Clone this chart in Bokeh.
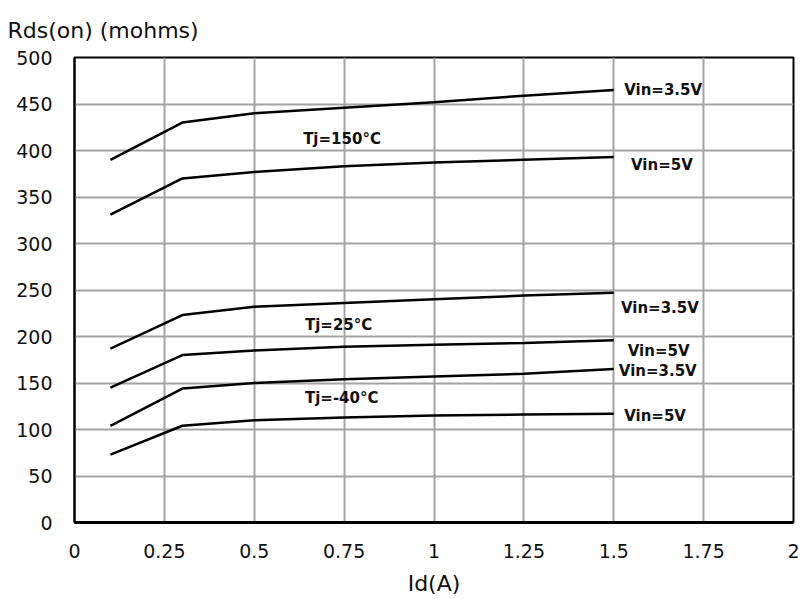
from bokeh.plotting import figure
from bokeh.models import Range1d, FixedTicker
from bokeh.core.properties import value
from bokeh.embed import file_html
from bokeh.resources import INLINE

# ---- data ----
id_a = [0.1, 0.3, 0.5, 0.75, 1.0, 1.25, 1.5]
r_150_35 = [390, 430, 440, 446, 452, 459, 465]
r_150_5 = [331, 370, 377, 383, 387, 390, 393]
r_25_35 = [187, 223, 232, 236, 240, 244, 247]
r_25_5 = [145, 180, 185, 189, 191, 193, 196]
r_m40_35 = [104, 144, 150, 154, 157, 160, 165]
r_m40_5 = [73, 104, 110, 113, 115, 116, 117]

x_ticks = [0, 0.25, 0.5, 0.75, 1, 1.25, 1.5, 1.75, 2]
x_tick_labels = ["0", "0.25", "0.5", "0.75", "1", "1.25", "1.5", "1.75", "2"]
y_ticks = [0, 50, 100, 150, 200, 250, 300, 350, 400, 450, 500]

label_texts = ["Vin=3.5V", "Vin=5V", "Tj=150°C",
               "Vin=3.5V", "Vin=5V", "Tj=25°C",
               "Vin=3.5V", "Vin=5V", "Tj=-40°C"]
label_x = [1.529, 1.548, 0.636, 1.52, 1.539, 0.641, 1.514, 1.529, 0.641]
label_y = [465, 384, 412, 231, 184, 212, 163, 115, 134]

y_title = "Rds(on) (mohms)"
x_title = "Id(A)"

FONT = "DejaVu Sans"

p = figure(width=800, height=599, output_backend="svg", toolbar_location=None,
           x_range=Range1d(0, 2), y_range=Range1d(0, 500),
           min_border_left=74, min_border_right=7, min_border_top=57,
           min_border_bottom=77)

xax = p.below[0]
yax = p.left[0]

x_ticker = FixedTicker(ticks=x_ticks)
y_ticker = FixedTicker(ticks=y_ticks)
xax.ticker = x_ticker
yax.ticker = y_ticker
p.xgrid.ticker = x_ticker
p.ygrid.ticker = y_ticker
xax.major_label_overrides = {t: l for t, l in zip(x_ticks, x_tick_labels)}

# y-axis title, drawn horizontally at the top-left
p.title.text = y_title
p.title.align = "left"
p.title.offset = -67
p.title.standoff = 29
p.title.text_font = FONT
p.title.text_font_size = "22px"
p.title.text_font_style = "normal"
p.title.text_color = "#111111"

p.background_fill_color = "white"
p.border_fill_color = "white"
p.outline_line_color = "black"
p.outline_line_width = 2

for ax in (xax, yax):
    ax.major_tick_out = 0
    ax.major_tick_in = 0
    ax.minor_tick_out = 0
    ax.minor_tick_in = 0
    ax.major_label_text_font = FONT
    ax.major_label_text_font_size = "19px"
    ax.major_label_text_color = "#111111"
    ax.axis_line_color = "black"

xax.axis_line_width = 3
yax.axis_line_width = 2
yax.major_label_standoff = 22
xax.major_label_standoff = 21

xax.axis_label = x_title
xax.axis_label_text_font = FONT
xax.axis_label_text_font_size = "22px"
xax.axis_label_text_font_style = "normal"
xax.axis_label_text_color = "#111111"
xax.axis_label_standoff = 10

p.grid.grid_line_color = "#a3a3a3"
p.grid.grid_line_width = 2

for ys in (r_150_35, r_150_5, r_25_35, r_25_5, r_m40_35, r_m40_5):
    p.line(id_a, ys, line_color="black", line_width=2.5)

p.text(x=label_x, y=label_y, text=label_texts,
       text_font=value(FONT), text_font_style="bold", text_font_size="15px",
       text_color="#111111", text_align="left", text_baseline="middle")

open("out.html", "w").write(file_html(p, INLINE))
